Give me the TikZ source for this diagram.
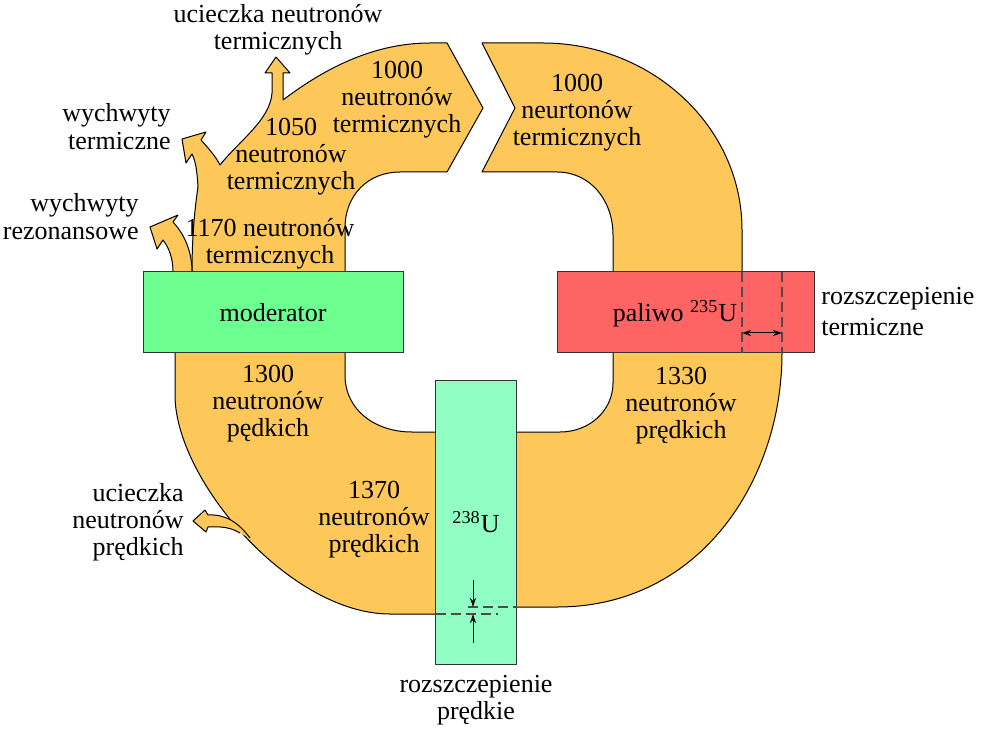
\documentclass[tikz,border=0pt]{standalone}
\usepackage{fontspec}
\setmainfont{Liberation Serif}
\usetikzlibrary{arrows.meta}

\definecolor{bandorange}{RGB}{253,199,90}
\definecolor{modgreen}{RGB}{110,255,145}
\definecolor{fuelred}{RGB}{255,100,100}
\definecolor{uranmint}{RGB}{145,255,195}

\begin{document}
\begin{tikzpicture}[
    x=0.5pt, y=-0.5pt,
    band/.style={
        fill=bandorange,
        draw=black,
        line width=0.5pt,
        line join=round
    },
    box/.style={
        draw=black!80,
        line width=0.5pt,
        inner sep=0pt,
        align=center,
        font=\fontsize{13}{13.5}\selectfont
    },
    lbl/.style={
        inner sep=0pt,
        align=center,
        font=\fontsize{13}{13.5}\selectfont
    },
    dashline/.style={draw=black!70, line width=0.6pt, dash pattern=on 5pt off 2.5pt},
    arrow/.style={-{Stealth[length=4.5pt, width=3pt]}, line width=0.5pt}
]
\useasboundingbox (0,0) rectangle (988,731);

% thermal neutrons, left part with leaks
\draw[band] (192,280) -- (192,272) .. controls (192,230) and (196,200) .. (198,187)
    .. controls (197,172) and (196,162) .. (192,154) -- (186,163) -- (182,139) -- (206,132) -- (201,140)
    .. controls (210,150) and (216,157) .. (220,165)
    .. controls (240,140) and (270,120) .. (272,93) -- (272,73) -- (265,73) -- (276,57) -- (290,73) -- (283,73) -- (283,100)
    .. controls (320,72) and (370,43) .. (430,43) -- (447,43) -- (483,108) -- (447,172) -- (400,172)
    .. controls (368,172) and (345,195) .. (345,228) -- (345,280) -- cycle;
\draw[band] (173,280) -- (173,272) .. controls (173,258) and (169,248) .. (163,240) -- (157,249) -- (150,227)
    -- (178,215) -- (173,222) .. controls (185,235) and (192,252) .. (192,272) -- (192,280) -- cycle;

% thermal neutrons, right part
\draw[band] (613,280) -- (613,235) .. controls (613,200) and (590,172) .. (557,172) -- (482,172) -- (515,108)
    -- (482,43) -- (543,43) .. controls (650,43) and (742,125) .. (742,230) -- (742,280) -- cycle;

% fast neutrons
\draw[band] (613,345) -- (613,383) .. controls (613,410) and (590,432) .. (560,432) -- (505,432) -- (505,607)
    -- (557,607) .. controls (700,607) and (782,480) .. (782,353) -- (782,345) -- cycle;
\draw[band] (345,345) -- (345,375) .. controls (345,410) and (375,432) .. (412,432) -- (450,432) -- (450,614)
    -- (390,614) .. controls (290,614) and (175,480) .. (175,395) -- (175,345) -- cycle;
\fill[bandorange] (250,538) .. controls (238,522) and (225,514) .. (208,515) -- (205,510) -- (193,521) -- (206,532)
    -- (208,527) .. controls (222,526) and (232,528) .. (240,533) -- cycle;
\draw[line width=0.5pt, line join=round] (250,538) .. controls (238,522) and (225,514) .. (208,515) -- (205,510)
    -- (193,521) -- (206,532) -- (208,527) .. controls (222,526) and (232,528) .. (240,533);

% boxes
\node[box, fill=modgreen, minimum width=130pt, minimum height=40.5pt] (moderator) at (273,312.5) {moderator};
\node[box, fill=fuelred, minimum width=128.5pt, minimum height=40.5pt] (fuel) at (685.5,312.5) {};
\node[box, fill=uranmint, minimum width=40.75pt, minimum height=142pt] (u238) at (476,522) {\textsuperscript{238}U};
\node[lbl] (fuellabel) at (675,314) {paliwo \textsuperscript{235}U};

% thermal fission
\coordinate (ta) at (742,272);
\coordinate (tb) at (742,353);
\coordinate (tc) at (782,272);
\coordinate (td) at (782,353);
\coordinate (te) at (742,333);
\coordinate (tf) at (782,333);
\draw[dashline] (ta) -- (tb);
\draw[dashline] (tc) -- (td);
\draw[{Stealth[length=4.5pt, width=3pt]}-{Stealth[length=4.5pt, width=3pt]}, line width=0.5pt] (te) -- (tf);

% fast fission
\coordinate (fa) at (468,607);
\coordinate (fb) at (517,607);
\coordinate (fc) at (435.5,614);
\coordinate (fd) at (498,614);
\coordinate (fe) at (473,580);
\coordinate (ff) at (473,607);
\coordinate (fg) at (473,643);
\coordinate (fh) at (473,614);
\draw[dashline] (fa) -- (fb);
\draw[dashline] (fc) -- (fd);
\draw[arrow] (fe) -- (ff);
\draw[arrow] (fg) -- (fh);

% labels
\node[lbl] (leakth) at (278,30) {ucieczka neutronów\\termicznych};
\node[lbl, align=right, anchor=east, font=\fontsize{13}{14}\selectfont] (capth) at (171,127) {wychwyty\\termiczne};
\node[lbl, align=right, anchor=east, font=\fontsize{13}{14}\selectfont] (capres) at (139,217) {wychwyty\\rezonansowe};
\node[lbl] (n1170) at (270,244) {1170 neutronów\\termicznych};
\node[lbl] (n1050) at (291,157) {1050\\neutronów\\termicznych};
\node[lbl] (n1000a) at (397,100) {1000\\neutronów\\termicznych};
\node[lbl] (n1000b) at (577,113) {1000\\neurtonów\\termicznych};
\node[lbl, align=left, anchor=west, font=\fontsize{13}{15.5}\selectfont] (fisth) at (821,312) {rozszczepienie\\termiczne};
\node[lbl] (n1330) at (681,406) {1330\\neutronów\\prędkich};
\node[lbl] (n1300) at (268,404) {1300\\neutronów\\pędkich};
\node[lbl] (n1370) at (374,520) {1370\\neutronów\\prędkich};
\node[lbl, align=right, anchor=east] (leakf) at (184,522) {ucieczka\\neutronów\\prędkich};
\node[lbl] (fisf) at (476,700) {rozszczepienie\\prędkie};
\end{tikzpicture}
\end{document}
